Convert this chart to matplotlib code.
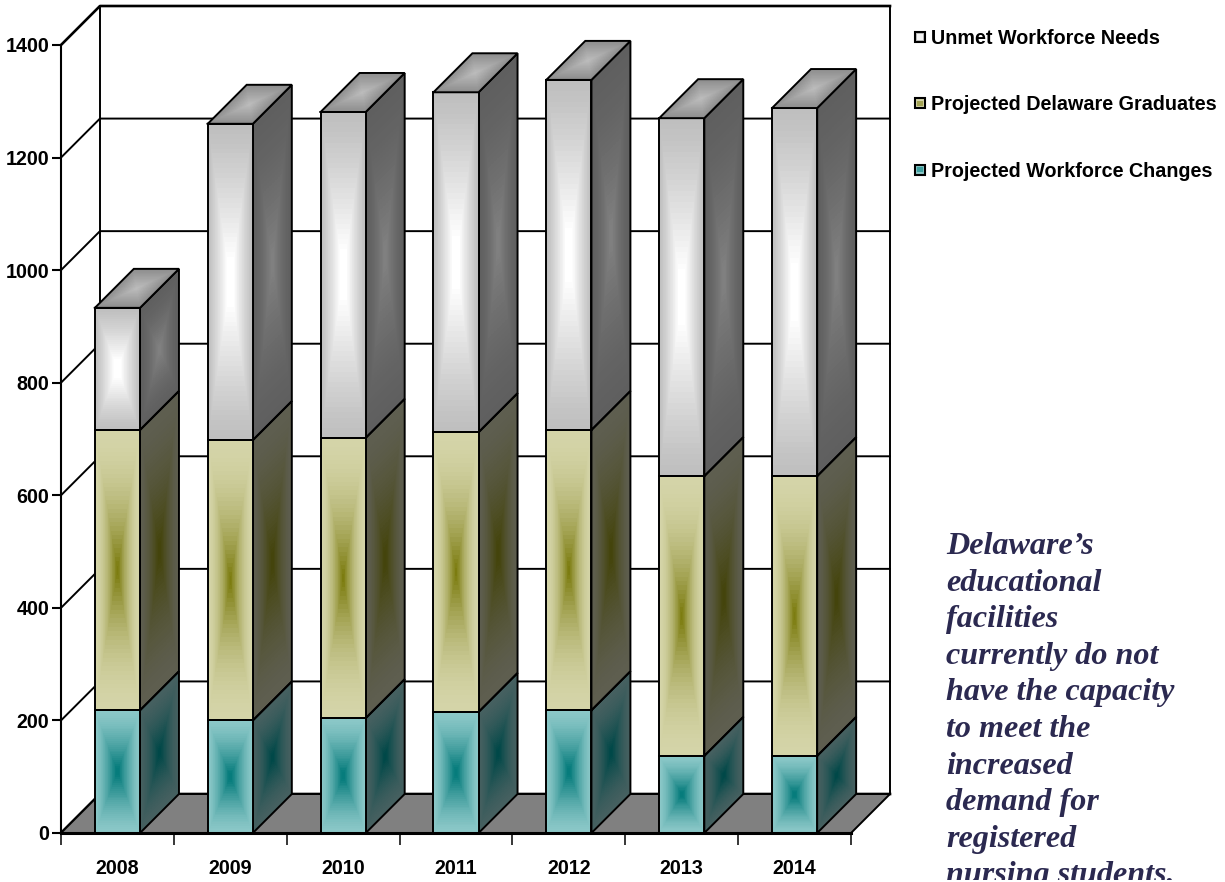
import numpy as np
import matplotlib
matplotlib.use("Agg")
import matplotlib.pyplot as plt
from matplotlib.legend_handler import HandlerBase
from matplotlib.patches import Patch, Rectangle
from matplotlib.transforms import Bbox

# Nursing workforce figures by year
years = ["2008", "2009", "2010", "2011", "2012", "2013", "2014"]
workforce_changes = [218, 200, 204, 215, 218, 137, 137]
delaware_graduates = [498, 498, 498, 497, 498, 497, 497]
unmet_needs = [217, 562, 579, 604, 622, 636, 654]
y_ticks = [0, 200, 400, 600, 800, 1000, 1200, 1400]

series_names = ["Unmet Workforce Needs", "Projected Delaware Graduates",
                "Projected Workforce Changes"]

note_lines = ["Delaware\u2019s", "educational", "facilities", "currently do not",
              "have the capacity", "to meet the", "increased", "demand for",
              "registered", "nursing students."]

# (edge, centre) colour pairs for the shaded faces
FRONT = {"teal": ("#8cc8c8", "#067c7c"), "olive": ("#d4d4a8", "#7c7c10"),
         "grey": ("#bebebe", "#ffffff")}
SIDE = {"teal": ("#466060", "#004848"), "olive": ("#5e5e50", "#44440c"),
        "grey": ("#5f5f5f", "#808080")}
TOP_FACE = ("#8c8c8c", "#bcbcbc")
SWATCH_CENTRE = {"grey": "#f4f4f4", "olive": "#a4a454", "teal": "#3f9f9f"}
# (exponent, gain) of the falloff from the centre of a front face
FALLOFF = {"teal": (1.45, 1.1), "olive": (1.9, 1.05), "grey": (1.2, 1.2)}

W, H, DPI = 1225, 882, 100
BAR_W = 0.4
DX, DY = 39 / 113.0, 39 / 0.5629  # oblique depth offset in data units
LW = 1.4

plt.rcParams["font.family"] = ["Liberation Sans"]
plt.rcParams["font.weight"] = "bold"

fig = plt.figure(figsize=(W / DPI, H / DPI), dpi=DPI, facecolor="white")
ax = fig.add_axes([61 / W, 1 - 833 / H, (890 - 61) / W, (833 - 6) / H])
ax.set_xlim(-0.5, 6.5 + DX)
ax.set_ylim(0, 1400 + DY)
ax.patch.set_visible(False)


def rgb(c):
    return np.array(matplotlib.colors.to_rgb(c))


def shaded_face(corner, du, dv, colours, z, power=1.6, gain=1.1, n=64):
    """Fill a parallelogram with a centre-out gradient and outline it."""
    edge, centre = rgb(colours[0]), rgb(colours[1])
    s = np.linspace(0, 1, n + 1)
    S, T = np.meshgrid(s, s)
    X = corner[0] + S * du[0] + T * dv[0]
    Y = corner[1] + S * du[1] + T * dv[1]
    mid = (s[:-1] + s[1:]) / 2
    Sm, Tm = np.meshgrid(mid, mid)
    t = np.maximum(np.abs(2 * Sm - 1), np.abs(2 * Tm - 1))
    weight = (1 - t)[..., None] ** power
    C = edge + (centre - edge) * np.clip(weight * gain, 0, 1)
    ax.pcolormesh(X, Y, C, shading="flat", zorder=z, antialiased=False,
                  linewidth=0, clip_on=False)
    xs = [corner[0], corner[0] + du[0], corner[0] + du[0] + dv[0], corner[0] + dv[0], corner[0]]
    ys = [corner[1], corner[1] + du[1], corner[1] + du[1] + dv[1], corner[1] + dv[1], corner[1]]
    ax.plot(xs, ys, color="black", lw=LW, zorder=z + 0.1, clip_on=False,
            solid_joinstyle="miter")


# Back wall, side wall rules and floor
for v in y_ticks:
    ax.plot([-0.5, -0.5 + DX, 6.5 + DX], [v, v + DY, v + DY], color="black",
            lw=1.4 if 0 < v < 1400 else 1.9, zorder=1, clip_on=False)
ax.plot([-0.5 + DX] * 2, [DY, 1400 + DY], color="black", lw=1.4, zorder=1, clip_on=False)
ax.plot([6.5 + DX] * 2, [DY, 1400 + DY], color="black", lw=1.4, zorder=1, clip_on=False)
ax.fill([-0.5, 6.5, 6.5 + DX, -0.5 + DX], [0, 0, DY, DY], facecolor="#808080",
        edgecolor="black", lw=1.4, zorder=1.5, clip_on=False)

# Stacked prisms
stack = [("teal", workforce_changes), ("olive", delaware_graduates), ("grey", unmet_needs)]
for i in range(len(years)):
    base = 0
    z = 3 + i
    for name, values in stack:
        v = values[i]
        left = i - BAR_W / 2
        right = i + BAR_W / 2
        shaded_face((right, base), (DX, DY), (0, v), SIDE[name], z)
        p, g = FALLOFF[name]
        shaded_face((left, base), (BAR_W, 0), (0, v), FRONT[name], z + 0.2, power=p, gain=g)
        base += v
        z += 0.01
    shaded_face((left, base), (BAR_W, 0), (DX, DY), TOP_FACE, z + 0.3, power=1.0, gain=1.0)

# Axes
for side in ("top", "right"):
    ax.spines[side].set_visible(False)
ax.spines["left"].set_bounds(0, 1400)
ax.spines["bottom"].set_bounds(-0.5, 6.5)
ax.spines["left"].set_linewidth(1.5)
ax.spines["bottom"].set_linewidth(2.2)
ax.spines["left"].set_zorder(20)
ax.spines["bottom"].set_zorder(20)

TICK_FONT = 14.2
ax.set_yticks(y_ticks)
ax.set_yticklabels([str(v) for v in y_ticks], fontsize=TICK_FONT, fontweight="bold")
ax.tick_params(axis="y", length=6.5, width=1.5, pad=1.8)
ax.set_xticks(np.arange(len(years) + 1) - 0.5)
ax.set_xticklabels([])
ax.tick_params(axis="x", which="major", length=8.5, width=1.1)
ax.set_xticks(np.arange(len(years)), minor=True)
ax.set_xticklabels(years, minor=True, fontsize=TICK_FONT, fontweight="bold")
ax.tick_params(axis="x", which="minor", length=0, pad=18.5)


class SwatchHandler(HandlerBase):
    """Small outlined square with a darker centre, like the bar shading."""

    def create_artists(self, legend, orig, xd, yd, width, height, fontsize, trans):
        size = 7.2
        x0, y0 = width - size - 1, (height - size) / 2 - yd
        outer = Rectangle((x0, y0), size, size, facecolor=orig.get_facecolor(),
                          edgecolor="black", lw=1.5, transform=trans)
        inset = 1.7
        inner = Rectangle((x0 + inset, y0 + inset), size - 2 * inset, size - 2 * inset,
                          facecolor=orig.get_edgecolor(), edgecolor="none", transform=trans)
        return [outer, inner]


proxies = [Patch(facecolor=FRONT[k][0], edgecolor=SWATCH_CENTRE[k]) for k in ("grey", "olive", "teal")]
leg = fig.legend(proxies, series_names, loc="upper left",
                 bbox_to_anchor=(906.7 / W, 1 - 29 / H), frameon=False,
                 fontsize=TICK_FONT, labelspacing=2.4, handlelength=1.0,
                 handletextpad=0.23, borderpad=0, borderaxespad=0,
                 handler_map={Patch: SwatchHandler()})

# Side note, cut off at the lower edge of its text box
clip = Bbox([[0, 2], [W, H]])
for k, line in enumerate(note_lines):
    t = fig.text(946 / W, 1 - (554 + 36.6 * k) / H, line, family="Liberation Serif",
                 style="italic", fontweight="bold", fontsize=23.1, color="#2b2950",
                 va="baseline", ha="left")
    t.set_clip_box(clip)
    t.set_clip_on(True)

fig.savefig("out.png", dpi=DPI, facecolor="white")
